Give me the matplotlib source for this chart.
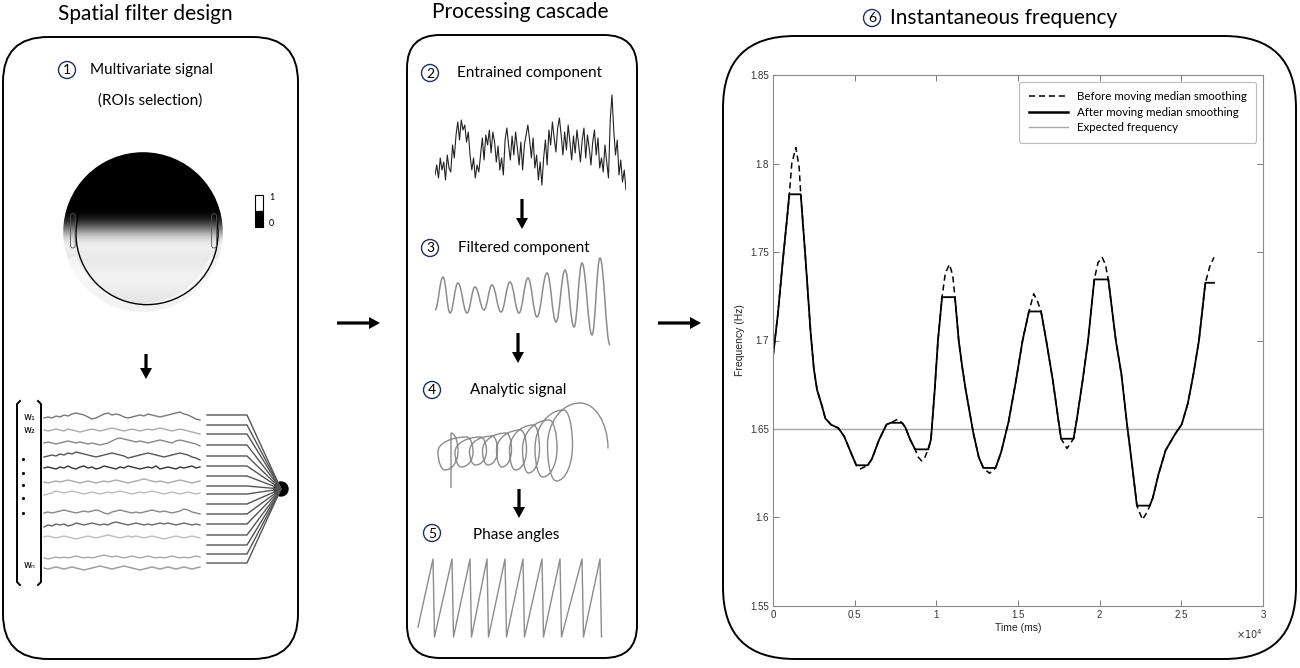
import numpy as np
import matplotlib.pyplot as plt
from matplotlib.patches import FancyBboxPatch, Circle, Rectangle, Wedge, PathPatch, FancyArrow
from matplotlib.path import Path
from matplotlib.lines import Line2D

plt.rcParams['font.family'] = ['Lato', 'DejaVu Sans']

W, H = 1300, 668

# --- panel 6: instantaneous frequency (time in 1e4 ms, frequency in Hz)
time_pts = [0.00, 0.03, 0.06, 0.085, 0.10, 0.115, 0.14, 0.16, 0.17, 0.20,
            0.23, 0.25, 0.27, 0.30, 0.32, 0.355, 0.40, 0.435, 0.48, 0.51,
            0.537, 0.58, 0.605, 0.65, 0.695, 0.72, 0.763, 0.79, 0.81, 0.84,
            0.87, 0.89, 0.91, 0.93, 0.95, 0.967, 0.99, 1.01, 1.035, 1.055,
            1.08, 1.10, 1.114, 1.137, 1.16, 1.18, 1.227, 1.26, 1.288, 1.325,
            1.363, 1.397, 1.442, 1.487, 1.528, 1.567, 1.596, 1.62, 1.641, 1.673,
            1.714, 1.748, 1.764, 1.80, 1.84, 1.861, 1.895, 1.929, 1.967, 1.99,
            2.015, 2.035, 2.053, 2.099, 2.133, 2.167, 2.20, 2.228, 2.262, 2.29,
            2.307, 2.325, 2.359, 2.404, 2.461, 2.502, 2.54, 2.574, 2.608, 2.647,
            2.675, 2.70]
freq_before = [1.691, 1.715, 1.745, 1.768, 1.7826, 1.800, 1.809, 1.798, 1.7826, 1.745,
               1.705, 1.684, 1.672, 1.663, 1.656, 1.6525, 1.6505, 1.646, 1.636, 1.6295,
               1.6275, 1.6295, 1.633, 1.644, 1.6525, 1.6535, 1.6555, 1.6535, 1.651, 1.644,
               1.6385, 1.634, 1.632, 1.634, 1.6385, 1.644, 1.672, 1.700, 1.7245, 1.738,
               1.743, 1.737, 1.7245, 1.700, 1.684, 1.672, 1.6475, 1.634, 1.628, 1.625,
               1.628, 1.637, 1.654, 1.677, 1.700, 1.7164, 1.7264, 1.722, 1.7164, 1.700,
               1.677, 1.6545, 1.6445, 1.639, 1.6445, 1.656, 1.677, 1.700, 1.7345, 1.744,
               1.747, 1.743, 1.7345, 1.700, 1.681, 1.653, 1.6285, 1.6067, 1.5988, 1.603,
               1.6067, 1.611, 1.624, 1.638, 1.647, 1.6525, 1.6645, 1.681, 1.700, 1.7326,
               1.742, 1.747]
# flat segments left by the moving median
plateau_start = [0.10, 0.51, 0.72, 0.87, 1.035, 1.288, 1.567, 1.764, 1.967, 2.228, 2.647]
plateau_end = [0.17, 0.58, 0.79, 0.95, 1.114, 1.363, 1.641, 1.84, 2.053, 2.307, 2.70]
plateau_level = [1.7826, 1.6295, 1.6535, 1.6385, 1.7245, 1.628, 1.7164, 1.6445, 1.7345, 1.6067, 1.7326]
expected_freq = 1.65

# --- panel 2: entrained component (arbitrary amplitude)
entrained = [-25, -15, -28, -8, -20, -12, -30, -5, -18, -22,
             5, -8, 15, 28, 10, 30, 20, 25, 8, 18,
             -5, -20, -8, -28, -15, -22, -5, 12, -10, 15,
             5, 20, -3, 18, 8, -12, 4, -20, -8, -25,
             10, 22, 5, -10, 14, -5, 18, 2, -15, 8,
             -20, 5, 15, 25, 10, -8, 12, -18, -5, -30,
             -12, -35, -8, 10, -15, 20, 5, 28, 12, -2,
             22, 32, 15, -5, 18, 0, 25, 8, -10, 14,
             -3, 20, 5, -12, 10, 22, -8, 15, 2, -15,
             8, 20, -5, 12, -18, -8, -22, 5, -12, -28,
             30, 55, 20, -5, 10, -25, -10, -32, -20, -40]

# --- panel 3: filtered component, successive extrema
filt_t = [435, 443, 450, 458, 467, 475, 484, 492, 501, 510, 519,
          528, 537, 547, 556, 565, 574, 582, 592, 600, 610]
filt_amp = [-15, 18, -18, 12, -18, 8, -15, 10, -17, 13, -18,
            17, -22, 22, -27, 25, -32, 32, -40, 37, -50]

# --- panel 4: analytic signal, one entry per loop
loop_cx = [448, 464, 478, 490, 504, 518, 531, 546, 560, 580]
loop_w = [10, 9, 8.5, 7.5, 7.5, 8.5, 8.5, 11, 12.5, 28]
loop_top = [433, 437, 437, 436, 433, 430, 425, 420, 410, 403]
loop_bottom = [470, 467, 465, 465, 467, 470, 473, 477, 481, 484]
helix_start = (451, 488)

# --- panel 5: phase angles, time of each wrap
wrap_t = [433, 452, 470, 487, 505, 523, 542, 560, 582, 600]
phase_start = (418, -2.34)

# --- panel 1: multivariate signal traces
traces = [
    [0, 1, 0, 2, 1, 3, 2, 4, 5, 4, 3, 1, -1, 0, 2, 4, 5, 3, 4, 3, 1, 0, 1, 2, 3, 2, 4, 3, 2, 1, 2, 3, 4, 5, 6, 4, 3, 1, -1, -2],
    [0, -1, 0, 1, 0, -1, 1, 0, -1, -2, -1, 0, 1, 0, -1, 0, 1, 2, 1, 0, -1, 0, 1, 0, -1, 0, 1, 0, 1, 2, 1, 0, -1, 0, 1, 0, -1, -2, -3, -4],
    [0, 1, 0, -1, 0, 1, 2, 1, 0, 1, 0, -1, 0, -1, -2, -1, 0, 2, 4, 5, 4, 3, 2, 1, 2, 1, 0, 1, 2, 3, 2, 1, 0, 2, 3, 2, 1, 0, -1, -3],
    [0, 1, 2, 1, 3, 2, 4, 3, 5, 4, 3, 2, 1, 0, 1, 2, 3, 4, 3, 2, 1, -1, 0, 1, 2, 3, 4, 3, 2, 1, 0, 1, 2, 3, 4, 3, 2, 0, -1, -3],
    [0, 1, 0, -1, 1, 0, 2, 0, -1, 1, 2, 0, 1, -1, 0, 2, 1, 0, -1, 1, 0, 2, 1, 0, -1, 0, 1, 0, 2, -1, 0, 1, 0, -1, 1, 0, 1, 2, 0, 1],
    [0, -1, 0, 1, 0, 1, 2, 1, 0, -1, 0, 1, 0, -1, 0, 1, 0, 1, 2, 1, 0, -1, 0, 1, 2, 3, 2, 1, 0, 1, 0, -1, 0, 1, 2, 1, 0, -1, 0, 1],
    [-2, -1, 0, 2, 1, 0, 1, 2, 1, 0, -1, 0, 1, 0, -1, 0, 1, 0, 1, 2, 1, 0, -1, 0, 1, 0, 1, 2, 1, 0, -1, 0, 1, 0, -1, 0, 1, 0, -1, 0],
    [0, 1, 0, 1, 2, 3, 2, 1, 0, 1, 2, 1, 2, 3, 2, 0, -1, 1, 2, 3, 2, 1, 0, 1, 0, 1, 2, 3, 2, 1, 2, 1, 0, 1, 2, 4, 3, 1, 0, -1],
    [-2, 0, -1, 1, 0, 1, -1, 0, 2, 1, 0, 1, 2, 1, 0, 1, 0, 2, 3, 2, 1, 0, 1, 2, 1, 0, 1, 0, 1, 2, 1, 2, 1, 0, 1, 2, 1, 0, 1, 0],
    [0, 1, 0, -1, 0, 1, 0, -1, -2, -1, 0, 1, 0, -1, 0, 1, 2, 1, 0, -1, 0, 1, 0, 1, 0, -1, 0, 1, 0, -1, -2, -1, 0, 1, 0, -1, 0, 1, 0, -1],
    [0, -1, 0, 1, 0, 1, 0, 1, 2, 1, 0, 1, 0, 1, 2, 3, 2, 1, 2, 1, 0, 1, 2, 1, 0, 1, 2, 1, 0, 1, 0, 1, 2, 1, 0, 1, 0, 1, 2, 1],
    [0, -1, 0, 1, 0, -1, 0, 1, 0, -1, -2, -1, 0, 1, 2, 1, 0, -1, 0, 1, 2, 1, 0, -1, -2, -1, 0, 1, 0, -1, 0, 1, 0, -1, 0, 1, 0, -1, 0, 1],
]
trace_colors = ['#777777', '#aaaaaa', '#888888', '#555555', '#333333', '#aaaaaa',
                '#bbbbbb', '#888888', '#666666', '#bbbbbb', '#aaaaaa', '#999999']
trace_rows = [13, 25, 38, 52, 63, 77, 88, 108, 120, 132, 153, 163]

# scalp map: gray level from top to bottom of the head
topo_profile = [0.0, 0.0, 0.0, 0.0, 0.0, 0.0, 0.0, 0.0, 0.12, 0.45,
                0.8, 0.95, 0.93, 0.9, 0.93, 0.95, 0.94, 0.92, 0.9, 0.9]

# connector rows to the summing node
conn_rows = [415, 425, 434, 445, 456, 466, 476, 486, 494, 504, 514, 524, 535, 545, 554, 563]


def rect(x0, y0, x1, y1):
    return [x0 / W, 1 - y1 / H, (x1 - x0) / W, (y1 - y0) / H]


def inset(x0, y0, x1, y1):
    a = fig.add_axes(rect(x0, y0, x1, y1))
    a.axis('off')
    return a


def smooth_path(xs, ys, tang, k):
    # bezier through extreme points, tangents horizontal ('h') or vertical ('v')
    verts = [(xs[0], ys[0])]
    codes = [Path.MOVETO]
    for i in range(len(xs) - 1):
        x0, y0, x1, y1 = xs[i], ys[i], xs[i + 1], ys[i + 1]
        dx, dy = x1 - x0, y1 - y0
        c1 = (x0 + k * dx, y0) if tang[i] == 'h' else (x0, y0 + k * dy)
        c2 = (x1 - k * dx, y1) if tang[i + 1] == 'h' else (x1, y1 - k * dy)
        verts += [c1, c2, (x1, y1)]
        codes += [Path.CURVE4] * 3
    return Path(verts, codes)


fig = plt.figure(figsize=(W / 100, H / 100), dpi=100)
bg = fig.add_axes([0, 0, 1, 1])
bg.set_xlim(0, W)
bg.set_ylim(H, 0)
bg.axis('off')

# rounded panels
for x0, y0, x1, y1, r in [(3, 37, 298, 659, 45), (407, 35, 637, 658, 33), (723, 36, 1296, 659, 72)]:
    bg.add_patch(FancyBboxPatch((x0, y0), x1 - x0, y1 - y0,
                                boxstyle=f"round,pad=0,rounding_size={r}",
                                fc='white', ec='black', lw=1.4))

bg.text(145, 14, 'Spatial filter design', ha='center', va='center', fontsize=15)
bg.text(520, 12, 'Processing cascade', ha='center', va='center', fontsize=15)


def circled(x, y, n):
    bg.add_patch(Circle((x, y), 8.5, fc='white', ec='#22305e', lw=1.0))
    bg.text(x, y + 0.5, n, ha='center', va='center', fontsize=10)


circled(872, 18, '6')
bg.text(890, 18, 'Instantaneous frequency', ha='left', va='center', fontsize=15)

circled(67, 70, '1')
bg.text(90, 70, 'Multivariate signal', ha='left', va='center', fontsize=11)
bg.text(150, 101, '(ROIs selection)', ha='center', va='center', fontsize=11)
circled(430, 73, '2')
bg.text(457, 73, 'Entrained component', ha='left', va='center', fontsize=11)
circled(430, 248, '3')
bg.text(458, 248, 'Filtered component', ha='left', va='center', fontsize=11)
circled(432, 390, '4')
bg.text(518, 390, 'Analytic signal', ha='center', va='center', fontsize=11)
circled(432, 533, '5')
bg.text(516, 535, 'Phase angles', ha='center', va='center', fontsize=11)

# arrows
arrow_kw = dict(width=3.2, head_width=12, head_length=11, length_includes_head=True,
                color='black', lw=0)
for x, y0, y1 in [(146, 354, 379), (522, 199, 229), (518, 333, 363), (519, 489, 518)]:
    bg.add_patch(FancyArrow(x, y0, 0, y1 - y0, **arrow_kw))
for x0, x1 in [(337, 380), (658, 701)]:
    bg.add_patch(FancyArrow(x0, 323, x1 - x0, 0, **arrow_kw))

# scalp map
tax = fig.add_axes(rect(60, 149, 226, 315))
tax.axis('off')
img = np.tile(np.array(topo_profile)[:, None], (1, 20))
im = tax.imshow(img, extent=[-1, 1, -1, 1], cmap='gray', vmin=0, vmax=1,
                interpolation='bicubic', origin='upper')
im.set_clip_path(Circle((0, 0), 1.0, transform=tax.transData))
tax.add_patch(Wedge((0, 0), 1.0, 200, 340, width=0.11, fc='white', alpha=0.5, ec='none'))
tax.add_patch(Circle((0.05, -0.02), 0.89, fill=False, ec='black', lw=1.0))
for ex in [-0.91, 0.86]:
    tax.add_patch(FancyBboxPatch((ex, -0.2), 0.06, 0.43, boxstyle='round,pad=0,rounding_size=0.03',
                                 fc='none', ec='#555555', lw=0.6))
tax.set_xlim(-1.04, 1.04)
tax.set_ylim(-1.04, 1.04)
tax.set_aspect('equal')

bg.add_patch(Rectangle((255, 195), 8, 16, fc='white', ec='black', lw=0.8))
bg.add_patch(Rectangle((255, 211), 8, 16, fc='black', ec='black', lw=0.8))
bg.text(269, 197, '1', fontsize=6.5, va='center')
bg.text(269, 224, '0', fontsize=6.5, va='center')

# multivariate traces
mv = inset(40, 405, 205, 578)
for vals, row, col in zip(traces, trace_rows, trace_colors):
    xs = np.linspace(4, 160, len(vals))
    mv.plot(xs, row - np.array(vals), color=col, lw=1.0)
mv.set_xlim(0, 165)
mv.set_ylim(173, 0)

for a, b in [(20, 17), (38, 41)]:
    bg.plot([a, b, b, a], [401, 404, 582, 585], color='black', lw=1.4)
bg.text(24, 417, 'w₁', fontsize=7, va='center', family=['DejaVu Sans'])
bg.text(24, 430, 'w₂', fontsize=7, va='center', family=['DejaVu Sans'])
bg.text(24, 565, 'wₙ', fontsize=7, va='center', family=['DejaVu Sans'])
bg.plot([23] * 5, [459, 473, 485, 498, 513], ls='none', marker='o', ms=1.2, color='black')

for y in conn_rows:
    bg.plot([207, 247, 281], [y, y, 489], color='#555555', lw=1.0)
bg.add_patch(Circle((281, 489), 7, fc='black', ec='black'))

# entrained component
ea = inset(435, 90, 626, 200)
ea.plot(np.arange(len(entrained)), entrained, color='#222222', lw=0.8)
ea.set_xlim(0, len(entrained) - 1)
ea.set_ylim(-50, 60)

# filtered component
fa = inset(430, 250, 615, 350)
fa.add_patch(PathPatch(smooth_path(filt_t, filt_amp, ['h'] * len(filt_t), 0.4),
                       fc='none', ec='#8c8c8c', lw=1.1))
fa.set_xlim(430, 615)
fa.set_ylim(-55, 45)

# analytic signal: top, right, bottom, left of each loop (tops lean right)
hx, hy, ht = [helix_start[0]], [helix_start[1]], ['v']
n_loops = len(loop_cx)
for i, (cx, w, top, bot) in enumerate(zip(loop_cx, loop_w, loop_top, loop_bottom)):
    cy = (top + bot) / 2
    lean = 0.3 * w if i < n_loops - 1 else 0
    if i < n_loops - 1:
        hx += [cx + lean, cx + w, cx - lean, cx - w]
        hy += [top, cy, bot, cy]
        ht += ['h', 'v', 'h', 'v']
    else:
        hx += [cx, cx + w]
        hy += [top, cy + 5]
        ht += ['h', 'v']
aa = inset(425, 395, 620, 495)
aa.add_patch(PathPatch(smooth_path(hx, hy, ht, 0.5523), fc='none', ec='#8c8c8c', lw=1.0))
aa.set_xlim(425, 620)
aa.set_ylim(495, 395)

# phase angles
px, py = [phase_start[0]], [phase_start[1]]
for tw in wrap_t:
    px += [tw, tw + 1.5]
    py += [np.pi, -np.pi]
pa = inset(410, 552, 615, 642)
pa.plot(px, py, color='#8c8c8c', lw=1.0)
pa.set_xlim(410, 615)
pa.set_ylim(-np.pi - 0.403, np.pi + 0.564)

# instantaneous frequency plot
t = np.array(time_pts)
f_before = np.array(freq_before)
f_after = f_before.copy()
for a, b, lev in zip(plateau_start, plateau_end, plateau_level):
    f_after[(t >= a - 1e-9) & (t <= b + 1e-9)] = lev

ax = fig.add_axes(rect(773, 75, 1263, 606))
ax.axhline(expected_freq, color='#a8a8a8', lw=1.0)
ax.plot(t, f_before, color='black', lw=1.1, dashes=(4, 2.5))
ax.plot(t, f_after, color='black', lw=1.3)
ax.set_xlim(0, 3)
ax.set_ylim(1.55, 1.85)
ax.set_xticks([0, 0.5, 1, 1.5, 2, 2.5, 3])
ax.set_xticklabels(['0', '0.5', '1', '1.5', '2', '2.5', '3'])
ax.set_yticks([1.55, 1.6, 1.65, 1.7, 1.75, 1.8, 1.85])
ax.set_yticklabels(['1.55', '1.6', '1.65', '1.7', '1.75', '1.8', '1.85'])
ax.tick_params(direction='in', top=True, right=True, length=4, width=0.6, color='#666666',
               labelsize=7, labelcolor='#333333', labelfontfamily='Liberation Sans', pad=3)
for s in ax.spines.values():
    s.set_color('#8a8a8a')
    s.set_linewidth(0.8)
ax.set_xlabel('Time (ms)', fontsize=7.5, family='Liberation Sans', color='#222222')
ax.xaxis.set_label_coords(0.5, -0.032)
ax.set_ylabel('Frequency (Hz)', fontsize=7.5, family='Liberation Sans', color='#222222')
ax.yaxis.set_label_coords(-0.058, 0.5)
ax.text(1.0, -0.04, r'$\times10^{4}$', transform=ax.transAxes, ha='right', va='top',
        fontsize=7, color='#333333')

handles = [Line2D([], [], color='black', lw=1.1, dashes=(4, 2.5)),
           Line2D([], [], color='black', lw=1.8),
           Line2D([], [], color='#a8a8a8', lw=1.0)]
leg = ax.legend(handles, ['Before moving median smoothing', 'After moving median smoothing',
                          'Expected frequency'],
                loc='upper right', fontsize=8.3, frameon=True, fancybox=True,
                handlelength=3.4, borderaxespad=0.6, labelspacing=0.4, borderpad=0.8)
leg.get_frame().set_edgecolor('#aaaaaa')
leg.get_frame().set_linewidth(0.8)

fig.savefig('out.png', dpi=100)
